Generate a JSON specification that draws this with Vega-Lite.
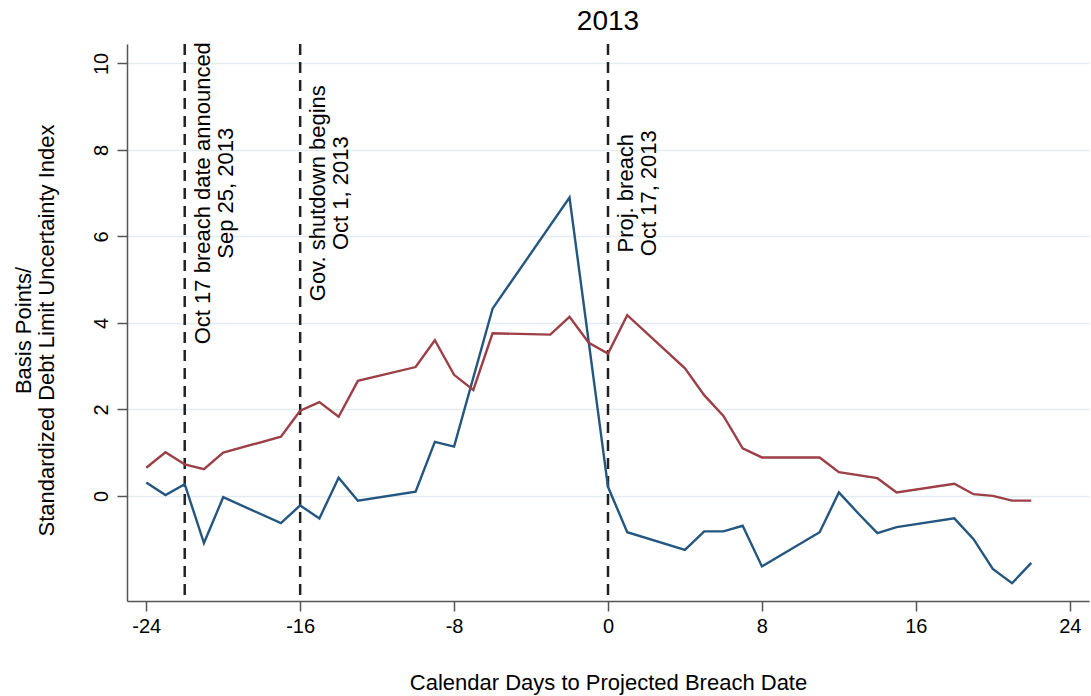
{
  "$schema": "https://vega.github.io/schema/vega-lite/v6.json",
  "autosize": {"type": "none"},
  "padding": {"left": 127, "top": 44, "right": 2, "bottom": 95},
  "width": 962,
  "height": 557,
  "background": "white",
  "title": {"text": "2013", "fontSize": 28, "font": "Liberation Sans", "fontWeight": "normal", "color": "#000000", "anchor": "middle", "offset": 6},
  "config": {
    "view": {"stroke": null},
    "font": "Liberation Sans"
  },
  "datasets": {
    "series": [
      {"day": -24, "series": "Uncertainty Index", "value": 0.31},
      {"day": -23, "series": "Uncertainty Index", "value": 0.02},
      {"day": -22, "series": "Uncertainty Index", "value": 0.27},
      {"day": -21, "series": "Uncertainty Index", "value": -1.09},
      {"day": -20, "series": "Uncertainty Index", "value": -0.03},
      {"day": -17, "series": "Uncertainty Index", "value": -0.63},
      {"day": -16, "series": "Uncertainty Index", "value": -0.22},
      {"day": -15, "series": "Uncertainty Index", "value": -0.52},
      {"day": -14, "series": "Uncertainty Index", "value": 0.42},
      {"day": -13, "series": "Uncertainty Index", "value": -0.11},
      {"day": -10, "series": "Uncertainty Index", "value": 0.10},
      {"day": -9, "series": "Uncertainty Index", "value": 1.25},
      {"day": -8, "series": "Uncertainty Index", "value": 1.14},
      {"day": -6, "series": "Uncertainty Index", "value": 4.33},
      {"day": -2, "series": "Uncertainty Index", "value": 6.90},
      {"day": 0, "series": "Uncertainty Index", "value": 0.21},
      {"day": 1, "series": "Uncertainty Index", "value": -0.84},
      {"day": 4, "series": "Uncertainty Index", "value": -1.25},
      {"day": 5, "series": "Uncertainty Index", "value": -0.82},
      {"day": 6, "series": "Uncertainty Index", "value": -0.82},
      {"day": 7, "series": "Uncertainty Index", "value": -0.69},
      {"day": 8, "series": "Uncertainty Index", "value": -1.63},
      {"day": 11, "series": "Uncertainty Index", "value": -0.84},
      {"day": 12, "series": "Uncertainty Index", "value": 0.08},
      {"day": 13, "series": "Uncertainty Index", "value": -0.40},
      {"day": 14, "series": "Uncertainty Index", "value": -0.86},
      {"day": 15, "series": "Uncertainty Index", "value": -0.72},
      {"day": 18, "series": "Uncertainty Index", "value": -0.52},
      {"day": 19, "series": "Uncertainty Index", "value": -1.00},
      {"day": 20, "series": "Uncertainty Index", "value": -1.69},
      {"day": 21, "series": "Uncertainty Index", "value": -2.02},
      {"day": 22, "series": "Uncertainty Index", "value": -1.55},
      {"day": -24, "series": "Basis Points", "value": 0.65},
      {"day": -23, "series": "Basis Points", "value": 1.01},
      {"day": -22, "series": "Basis Points", "value": 0.73},
      {"day": -21, "series": "Basis Points", "value": 0.62},
      {"day": -20, "series": "Basis Points", "value": 1.00},
      {"day": -17, "series": "Basis Points", "value": 1.37},
      {"day": -16, "series": "Basis Points", "value": 1.97},
      {"day": -15, "series": "Basis Points", "value": 2.17},
      {"day": -14, "series": "Basis Points", "value": 1.83},
      {"day": -13, "series": "Basis Points", "value": 2.66},
      {"day": -10, "series": "Basis Points", "value": 2.98},
      {"day": -9, "series": "Basis Points", "value": 3.60},
      {"day": -8, "series": "Basis Points", "value": 2.80},
      {"day": -7, "series": "Basis Points", "value": 2.45},
      {"day": -6, "series": "Basis Points", "value": 3.76},
      {"day": -3, "series": "Basis Points", "value": 3.73},
      {"day": -2, "series": "Basis Points", "value": 4.14},
      {"day": -1, "series": "Basis Points", "value": 3.54},
      {"day": 0, "series": "Basis Points", "value": 3.29},
      {"day": 1, "series": "Basis Points", "value": 4.18},
      {"day": 4, "series": "Basis Points", "value": 2.95},
      {"day": 5, "series": "Basis Points", "value": 2.33},
      {"day": 6, "series": "Basis Points", "value": 1.85},
      {"day": 7, "series": "Basis Points", "value": 1.10},
      {"day": 8, "series": "Basis Points", "value": 0.89},
      {"day": 11, "series": "Basis Points", "value": 0.89},
      {"day": 12, "series": "Basis Points", "value": 0.55},
      {"day": 14, "series": "Basis Points", "value": 0.41},
      {"day": 15, "series": "Basis Points", "value": 0.08},
      {"day": 18, "series": "Basis Points", "value": 0.28},
      {"day": 19, "series": "Basis Points", "value": 0.04},
      {"day": 20, "series": "Basis Points", "value": 0.00},
      {"day": 21, "series": "Basis Points", "value": -0.11},
      {"day": 22, "series": "Basis Points", "value": -0.11}
    ],
    "events": [
      {"day": -22, "ypos": 7, "label": "Oct 17 breach date announced\nSep 25, 2013"},
      {"day": -16, "ypos": 7, "label": "Gov. shutdown begins\nOct 1, 2013"},
      {"day": 0, "ypos": 7, "label": "Proj. breach\nOct 17, 2013"}
    ]
  },
  "layer": [
    {
      "data": {"name": "events"},
      "mark": {"type": "rule", "strokeDash": [11, 7], "strokeWidth": 2.5, "color": "#222222"},
      "encoding": {
        "x": {"field": "day", "type": "quantitative", "scale": {"domain": [-25, 25], "nice": false, "zero": false}}
      }
    },
    {
      "data": {"name": "series"},
      "mark": {"type": "line", "strokeWidth": 2.4},
      "encoding": {
        "x": {
          "field": "day", "type": "quantitative",
          "scale": {"domain": [-25, 25], "nice": false, "zero": false},
          "axis": {
            "values": [-24, -16, -8, 0, 8, 16, 24],
            "labelExpr": "'' + datum.value",
            "title": "Calendar Days to Projected Breach Date",
            "grid": false,
            "domainColor": "#555555", "domainWidth": 1.5,
            "tickColor": "#555555", "tickWidth": 1.5, "tickSize": 10,
            "labelFontSize": 20, "labelColor": "#000000", "labelPadding": 5, "labelFont": "Liberation Sans",
            "titleFontSize": 22, "titleColor": "#000000", "titleFontWeight": "normal", "titlePadding": 36, "titleFont": "Liberation Sans"
          }
        },
        "y": {
          "field": "value", "type": "quantitative",
          "scale": {"domain": [-2.43, 10.45], "nice": false, "zero": false},
          "axis": {
            "values": [0, 2, 4, 6, 8, 10],
            "labelExpr": "'' + datum.value",
            "title": ["Basis Points/", "Standardized Debt Limit Uncertainty Index"],
            "grid": true, "gridColor": "#e3edf0", "gridWidth": 1.5,
            "domainColor": "#555555", "domainWidth": 1.5,
            "tickColor": "#555555", "tickWidth": 1.5, "tickSize": 10,
            "labelFontSize": 20, "labelColor": "#000000", "labelAngle": -90, "labelAlign": "center", "labelBaseline": "bottom", "labelPadding": 6, "labelFont": "Liberation Sans",
            "titleFontSize": 22, "titleColor": "#000000", "titleFontWeight": "normal", "titleFont": "Liberation Sans",
            "titleAngle": -90, "titleAlign": "center", "titleBaseline": "alphabetic", "titleLineHeight": 23,
            "titleX": -97, "titleY": 286
          }
        },
        "color": {
          "field": "series", "type": "nominal",
          "scale": {"domain": ["Uncertainty Index", "Basis Points"], "range": ["#245680", "#9c3f47"]},
          "legend": null
        }
      }
    },
    {
      "data": {"name": "events"},
      "mark": {"type": "text", "angle": 270, "align": "center", "baseline": "alphabetic", "dy": 25, "fontSize": 22, "lineHeight": 23, "lineBreak": "\n", "color": "#000000", "font": "Liberation Sans"},
      "encoding": {
        "x": {"field": "day", "type": "quantitative"},
        "y": {"field": "ypos", "type": "quantitative"},
        "text": {"field": "label", "type": "nominal"}
      }
    }
  ]
}
